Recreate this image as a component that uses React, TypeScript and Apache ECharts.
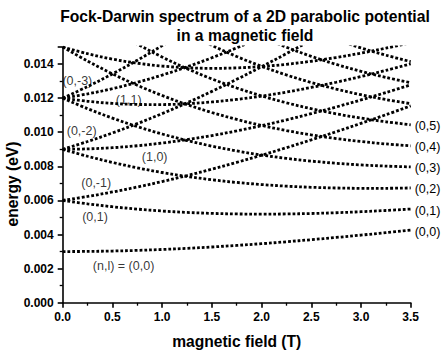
import React, { useEffect, useRef } from "react";
import * as echarts from "echarts";

// Magnetic field samples (T)
const fieldB = [0, 0.25, 0.5, 0.75, 1, 1.25, 1.5, 1.75, 2, 2.25, 2.5, 2.75, 3, 3.25, 3.5];

// Energies (eV) of the Fock-Darwin levels (n,l) read at the field samples
const e00 = [0.003000, 0.003008, 0.003031, 0.003069, 0.003122, 0.003188, 0.003268, 0.003359, 0.003462, 0.003575, 0.003697, 0.003827, 0.003965, 0.004109, 0.004260];
const e01 = [0.006000, 0.005800, 0.005630, 0.005490, 0.005380, 0.005297, 0.005240, 0.005207, 0.005196, 0.005206, 0.005233, 0.005278, 0.005337, 0.005410, 0.005495];
const e0m1 = [0.006000, 0.006232, 0.006494, 0.006786, 0.007108, 0.007457, 0.007832, 0.008231, 0.008652, 0.009094, 0.009553, 0.010030, 0.010521, 0.011026, 0.011543];
const e02 = [0.009000, 0.008591, 0.008229, 0.007912, 0.007638, 0.007405, 0.007212, 0.007054, 0.006930, 0.006836, 0.006770, 0.006729, 0.006710, 0.006711, 0.006731];
const e0m2 = [0.009000, 0.009455, 0.009957, 0.010504, 0.011094, 0.011725, 0.012396, 0.013103, 0.013842, 0.014612, 0.015410, 0.016233, 0.017078, 0.017943, 0.018827];
const e10 = [0.009000, 0.009023, 0.009093, 0.009208, 0.009366, 0.009565, 0.009804, 0.010078, 0.010386, 0.010724, 0.011090, 0.011481, 0.011894, 0.012327, 0.012779];
const e03 = [0.012000, 0.011383, 0.010828, 0.010333, 0.009896, 0.009514, 0.009184, 0.008902, 0.008664, 0.008467, 0.008307, 0.008180, 0.008083, 0.008013, 0.007967];
const e0m3 = [0.012000, 0.012679, 0.013420, 0.014221, 0.015080, 0.015994, 0.016960, 0.017974, 0.019032, 0.020131, 0.021267, 0.022436, 0.023635, 0.024860, 0.026111];
const e11 = [0.012000, 0.011815, 0.011692, 0.011629, 0.011624, 0.011674, 0.011776, 0.011926, 0.012120, 0.012355, 0.012627, 0.012932, 0.013267, 0.013628, 0.014015];
const e1m1 = [0.012000, 0.012247, 0.012556, 0.012925, 0.013352, 0.013834, 0.014368, 0.014950, 0.015576, 0.016243, 0.016947, 0.017684, 0.018451, 0.019245, 0.020063];
const e04 = [0.015000, 0.014175, 0.013427, 0.012754, 0.012154, 0.011622, 0.011156, 0.010749, 0.010398, 0.010098, 0.009844, 0.009631, 0.009455, 0.009314, 0.009202];
const e12 = [0.015000, 0.014607, 0.014291, 0.014050, 0.013882, 0.013782, 0.013748, 0.013774, 0.013854, 0.013986, 0.014164, 0.014383, 0.014639, 0.014930, 0.015250];
const e05 = [0.018000, 0.016967, 0.016026, 0.015175, 0.014412, 0.013731, 0.013128, 0.012597, 0.012132, 0.011729, 0.011380, 0.011082, 0.010828, 0.010615, 0.010438];
const e06 = [0.021000, 0.019758, 0.018625, 0.017596, 0.016670, 0.015839, 0.015100, 0.014444, 0.013867, 0.013360, 0.012917, 0.012533, 0.012201, 0.011916, 0.011674];
const e07 = [0.024000, 0.022550, 0.021224, 0.020018, 0.018928, 0.017948, 0.017072, 0.016292, 0.015601, 0.014990, 0.014454, 0.013983, 0.013573, 0.013217, 0.012909];
const e08 = [0.027000, 0.025342, 0.023822, 0.022439, 0.021185, 0.020056, 0.019044, 0.018139, 0.017335, 0.016621, 0.015990, 0.015434, 0.014946, 0.014518, 0.014145];

const levelNames = ["(0,0)", "(0,1)", "(0,-1)", "(0,2)", "(0,-2)", "(1,0)", "(0,3)", "(0,-3)", "(1,1)", "(1,-1)", "(0,4)", "(1,2)", "(0,5)", "(0,6)", "(0,7)", "(0,8)"];
const levelValues = [e00, e01, e0m1, e02, e0m2, e10, e03, e0m3, e11, e1m1, e04, e12, e05, e06, e07, e08];
// levels labelled at the right end of the plot
const endLabelled = ["(0,0)", "(0,1)", "(0,2)", "(0,3)", "(0,4)", "(0,5)"];

// In-plot annotations (text, field, energy)
const annotationText = ["(0,-3)", "(1,1)", "(0,-2)", "(1,0)", "(0,-1)", "(0,1)", "(n,l) = (0,0)"];
const annotationB = [0.152, 0.669, 0.196, 0.93, 0.342, 0.33, 0.617];
const annotationE = [0.01296, 0.01189, 0.01007, 0.00854, 0.00700, 0.00501, 0.00211];

const xTicks = { min: 0, max: 3.5, interval: 0.5 };
const yTicks = { min: 0, max: 0.015, interval: 0.002 };

const FONT = "'Liberation Sans', Arial, Helvetica, sans-serif";

export default function App() {
  const ref = useRef<HTMLDivElement>(null);
  useEffect(() => {
    document.body.style.margin = "0";
    if (!ref.current) return;
    const chart = echarts.init(ref.current, null, { renderer: "svg" });
    const gridLeft = 62.7;
    const gridRight = 34.3;
    const gridTop = 47;
    const gridBottom = 54.3;

    const plainText = {
      color: "#000",
      fontSize: 12.5,
      fontFamily: FONT,
      textBorderWidth: 0,
      textBorderColor: "transparent",
      textShadowBlur: 0,
    };

    const lineSeries = levelNames.map((name, k) => ({
      type: "line",
      name,
      color: "#000",
      data: fieldB.map((b, i) => [b, levelValues[k][i]]),
      smooth: 0.35,
      symbol: "none",
      silent: true,
      clip: true,
      lineStyle: { color: "#000", width: 2.8, type: [2.8, 2.0], cap: "butt" },
      endLabel: endLabelled.includes(name)
        ? { show: true, formatter: name, distance: 4, offset: [0, 1.5], ...plainText }
        : { show: false },
    }));

    const annotationSeries = {
      type: "scatter",
      silent: true,
      clip: false,
      symbolSize: 1,
      z: 10,
      color: "#000",
      itemStyle: { color: "rgba(0,0,0,0)" },
      data: annotationText.map((t, i) => ({ value: [annotationB[i], annotationE[i]], name: t })),
      label: {
        show: true,
        position: [0, 0],
        align: "center",
        verticalAlign: "middle",
        formatter: (p: any) => p.name,
        ...plainText,
      },
    };

    const axisCommon = {
      axisLine: { show: true, lineStyle: { color: "#000", width: 1.6 } },
      axisTick: { show: true, length: 5, lineStyle: { color: "#000", width: 1.6 } },
      minorTick: { show: true, splitNumber: 2, length: 3, lineStyle: { color: "#000", width: 1.3 } },
      splitLine: { show: false },
      minorSplitLine: { show: false },
    };

    chart.setOption({
      animation: false,
      backgroundColor: "#fff",
      title: {
        text: "Fock-Darwin spectrum of a 2D parabolic potential\nin a magnetic field",
        left: 240,
        top: 2,
        textAlign: "center",
        textStyle: { fontSize: 15.7, fontWeight: "bold", color: "#000", fontFamily: FONT, lineHeight: 19 },
      },
      grid: { left: gridLeft, right: gridRight, top: gridTop, bottom: gridBottom, containLabel: false },
      xAxis: {
        type: "value",
        ...xTicks,
        ...axisCommon,
        axisLabel: {
          color: "#000",
          fontWeight: "bold",
          fontSize: 12,
          fontFamily: FONT,
          margin: 8,
          formatter: (v: number) => v.toFixed(1),
        },
      },
      yAxis: {
        type: "value",
        ...yTicks,
        ...axisCommon,
        axisLabel: {
          color: "#000",
          fontWeight: "bold",
          fontSize: 12,
          fontFamily: FONT,
          margin: 9,
          formatter: (v: number) => (Math.round(v * 1000) % 2 === 0 ? v.toFixed(3) : ""),
        },
      },
      graphic: [
        {
          type: "text",
          x: 12,
          y: 184,
          rotation: Math.PI / 2,
          style: {
            text: "energy (eV)",
            fontSize: 15.6,
            fontWeight: "bold",
            fontFamily: FONT,
            fill: "#000",
            align: "center",
            verticalAlign: "middle",
          },
        },
        {
          type: "text",
          x: 236.7,
          y: 341.7,
          style: {
            text: "magnetic field (T)",
            fontSize: 15.6,
            fontWeight: "bold",
            fontFamily: FONT,
            fill: "#000",
            align: "center",
            verticalAlign: "middle",
          },
        },
      ],
      series: [...lineSeries, annotationSeries],
    });
    return () => chart.dispose();
  }, []);
  return <div ref={ref} style={{ width: 445, height: 357, position: "absolute", left: 0, top: 0 }} />;
}
